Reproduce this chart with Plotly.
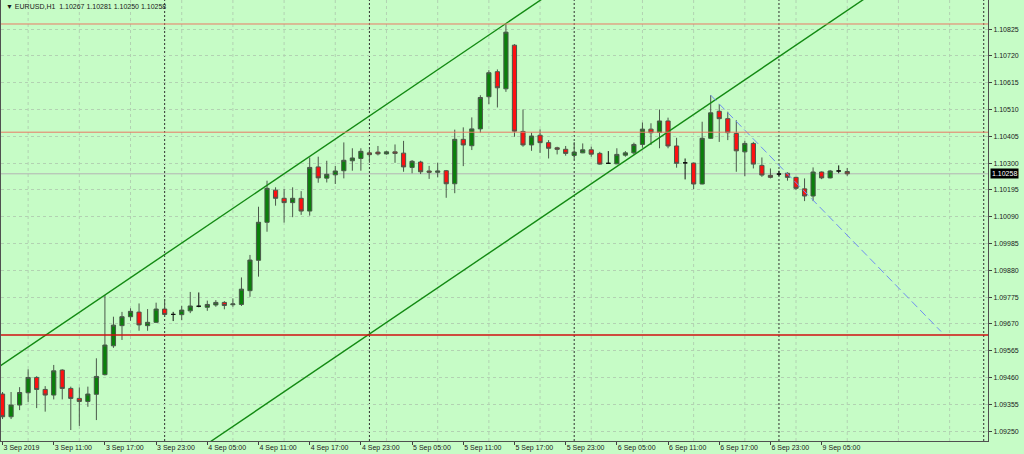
import plotly.graph_objects as go

# ---------------- data (EURUSD, H1) ----------------
opens = [1.09395, 1.09306, 1.09352, 1.09400, 1.09460, 1.09413, 1.09391, 1.09489, 1.09417, 1.09378,
         1.09366, 1.09394, 1.09471, 1.09584, 1.09663, 1.09698, 1.09716, 1.09663, 1.09676, 1.09728,
         1.09707, 1.09706, 1.09721, 1.09739, 1.09735, 1.09744, 1.09754, 1.09745, 1.09746, 1.09800,
         1.09919, 1.10068, 1.10194, 1.10162, 1.10145, 1.10162, 1.10112, 1.10285, 1.10241, 1.10254,
         1.10270, 1.10309, 1.10318, 1.10340, 1.10343, 1.10336, 1.10344, 1.10339, 1.10283, 1.10304,
         1.10269, 1.10264, 1.10270, 1.10219, 1.10393, 1.10368, 1.10434, 1.10560, 1.10658, 1.10591,
         1.10762, 1.10424, 1.10371, 1.10409, 1.10380, 1.10360, 1.10354, 1.10330, 1.10340, 1.10352,
         1.10338, 1.10299, 1.10297, 1.10331, 1.10340, 1.10373, 1.10433, 1.10420, 1.10465, 1.10367,
         1.10301, 1.10300, 1.10218, 1.10397, 1.10503, 1.10474, 1.10416, 1.10344, 1.10377, 1.10291,
         1.10252, 1.10257, 1.10260, 1.10244, 1.10199, 1.10171, 1.10265, 1.10242, 1.10269, 1.10267]

highs = [1.09403, 1.09403, 1.09422, 1.09492, 1.09465, 1.09426, 1.09509, 1.09492, 1.09424, 1.09421,
         1.09424, 1.09535, 1.09783, 1.09698, 1.09717, 1.09731, 1.09750, 1.09728, 1.09753, 1.09767,
         1.09717, 1.09741, 1.09795, 1.09793, 1.09761, 1.09763, 1.09759, 1.09770, 1.09852, 1.09940,
         1.10129, 1.10231, 1.10205, 1.10198, 1.10205, 1.10190, 1.10322, 1.10325, 1.10309, 1.10289,
         1.10381, 1.10358, 1.10358, 1.10354, 1.10367, 1.10348, 1.10373, 1.10387, 1.10312, 1.10309,
         1.10289, 1.10301, 1.10273, 1.10431, 1.10440, 1.10479, 1.10566, 1.10664, 1.10667, 1.10847,
         1.10766, 1.10510, 1.10419, 1.10432, 1.10390, 1.10364, 1.10367, 1.10382, 1.10377, 1.10364,
         1.10344, 1.10347, 1.10358, 1.10347, 1.10380, 1.10459, 1.10456, 1.10510, 1.10478, 1.10399,
         1.10318, 1.10302, 1.10462, 1.10566, 1.10531, 1.10501, 1.10468, 1.10387, 1.10383, 1.10322,
         1.10279, 1.10270, 1.10264, 1.10246, 1.10240, 1.10283, 1.10267, 1.10273, 1.10291, 1.10281]

lows = [1.09297, 1.09297, 1.09332, 1.09364, 1.09340, 1.09326, 1.09374, 1.09374, 1.09254, 1.09270,
        1.09345, 1.09293, 1.09468, 1.09576, 1.09607, 1.09682, 1.09643, 1.09643, 1.09673, 1.09698,
        1.09681, 1.09685, 1.09712, 1.09735, 1.09721, 1.09737, 1.09727, 1.09737, 1.09740, 1.09776,
        1.09855, 1.10031, 1.10133, 1.10067, 1.10088, 1.10097, 1.10094, 1.10223, 1.10224, 1.10218,
        1.10240, 1.10270, 1.10270, 1.10301, 1.10330, 1.10333, 1.10301, 1.10266, 1.10260, 1.10257,
        1.10238, 1.10244, 1.10164, 1.10182, 1.10288, 1.10351, 1.10419, 1.10531, 1.10518, 1.10579,
        1.10403, 1.10364, 1.10348, 1.10340, 1.10318, 1.10334, 1.10329, 1.10315, 1.10339, 1.10325,
        1.10294, 1.10297, 1.10296, 1.10325, 1.10334, 1.10360, 1.10371, 1.10358, 1.10358, 1.10282,
        1.10236, 1.10198, 1.10217, 1.10395, 1.10383, 1.10390, 1.10266, 1.10249, 1.10279, 1.10246,
        1.10240, 1.10249, 1.10231, 1.10194, 1.10151, 1.10151, 1.10237, 1.10240, 1.10260, 1.10250]

closes = [1.09306, 1.09352, 1.09401, 1.09460, 1.09413, 1.09391, 1.09486, 1.09417, 1.09378, 1.09366,
          1.09395, 1.09464, 1.09587, 1.09665, 1.09698, 1.09719, 1.09666, 1.09676, 1.09728, 1.09707,
          1.09707, 1.09724, 1.09740, 1.09739, 1.09746, 1.09754, 1.09742, 1.09748, 1.09806, 1.09920,
          1.10068, 1.10201, 1.10162, 1.10145, 1.10162, 1.10112, 1.10283, 1.10242, 1.10256, 1.10269,
          1.10311, 1.10320, 1.10346, 1.10333, 1.10336, 1.10344, 1.10338, 1.10285, 1.10307, 1.10266,
          1.10264, 1.10269, 1.10219, 1.10393, 1.10371, 1.10434, 1.10557, 1.10654, 1.10595, 1.10813,
          1.10425, 1.10371, 1.10406, 1.10380, 1.10358, 1.10354, 1.10338, 1.10343, 1.10352, 1.10335,
          1.10296, 1.10299, 1.10334, 1.10340, 1.10373, 1.10433, 1.10419, 1.10465, 1.10367, 1.10299,
          1.10301, 1.10218, 1.10397, 1.10497, 1.10474, 1.10419, 1.10348, 1.10377, 1.10296, 1.10253,
          1.10244, 1.10257, 1.10244, 1.10201, 1.10171, 1.10265, 1.10242, 1.10269, 1.10269, 1.10258]

# time-axis labels (every 6th hourly bar, starting 3 Sep 05:00)
tick_bars = [0, 6, 12, 18, 24, 30, 36, 42, 48, 54, 60, 66, 72, 78, 84, 90, 96]
tick_labels = ["3 Sep 2019", "3 Sep 11:00", "3 Sep 17:00", "3 Sep 23:00", "4 Sep 05:00",
               "4 Sep 11:00", "4 Sep 17:00", "4 Sep 23:00", "5 Sep 05:00", "5 Sep 11:00",
               "5 Sep 17:00", "5 Sep 23:00", "6 Sep 05:00", "6 Sep 11:00", "6 Sep 17:00",
               "6 Sep 23:00", "9 Sep 05:00"]
day_separator_bars = [19, 43, 67, 91, 115]
vgrid_bars = list(range(3, 115, 6))

price_ticks = [1.09250, 1.09355, 1.09460, 1.09565, 1.09670, 1.09775, 1.09880, 1.09985,
               1.10090, 1.10195, 1.10300, 1.10405, 1.10510, 1.10615, 1.10720, 1.10825]

# drawing objects
hlevels = [1.10845, 1.10421, 1.09626]
channel_upper_bars = [12, 59]
channel_upper_prices = [1.09783, 1.10847]
channel_lower_bar = 74
channel_lower_price = 1.10332
blue_bars = [83, 110]
blue_prices = [1.10566, 1.09640]

header = "▼ EURUSD,H1  1.10267 1.10281 1.10250 1.10258"

# ---------------- styles ----------------
BG = "#c6fcc6"
BULL = "#0a800a"
BEAR = "#ff1010"
WICK = "#4a584a"
GRID = "#b2d2b2"
FONT = "Liberation Sans"
hcolors = ["#ea7a66", "#ea7a66", "#d01010"]
hwidths = [1, 1, 1.5]

n = len(opens)
bars = list(range(n))
doji = [opens[i] == closes[i] for i in bars]
main_idx = [i for i in bars if not doji[i]]
doji_idx = [i for i in bars if doji[i]]

fig = go.Figure()

fig.add_trace(go.Candlestick(
    x=main_idx,
    open=[opens[i] for i in main_idx], high=[highs[i] for i in main_idx],
    low=[lows[i] for i in main_idx], close=[closes[i] for i in main_idx],
    increasing=dict(fillcolor=BULL, line=dict(color=WICK, width=1)),
    decreasing=dict(fillcolor=BEAR, line=dict(color=WICK, width=1)),
    whiskerwidth=0, hoverinfo="skip", showlegend=False))

fig.add_trace(go.Candlestick(
    x=doji_idx,
    open=[opens[i] for i in doji_idx], high=[highs[i] for i in doji_idx],
    low=[lows[i] for i in doji_idx], close=[closes[i] for i in doji_idx],
    increasing=dict(fillcolor="#000000", line=dict(color="#111111", width=1)),
    decreasing=dict(fillcolor="#000000", line=dict(color="#111111", width=1)),
    whiskerwidth=0, hoverinfo="skip", showlegend=False))

# channel lines (parallel)
slope = (channel_upper_prices[1] - channel_upper_prices[0]) / (channel_upper_bars[1] - channel_upper_bars[0])
ext = [-5, 130]
up_y = [channel_upper_prices[0] + slope * (b - channel_upper_bars[0]) for b in ext]
lo_y = [channel_lower_price + slope * (b - channel_lower_bar) for b in ext]
for ys in (up_y, lo_y):
    fig.add_trace(go.Scatter(x=ext, y=ys, mode="lines",
                             line=dict(color="#138a13", width=1.4),
                             hoverinfo="skip", showlegend=False))

# blue dashed trend line
fig.add_trace(go.Scatter(x=blue_bars, y=blue_prices, mode="lines",
                         line=dict(color="#6f8ff0", width=1, dash="8px,4px"),
                         hoverinfo="skip", showlegend=False))

shapes = []
for b in vgrid_bars:
    shapes.append(dict(type="line", xref="x", yref="paper", x0=b, x1=b, y0=0, y1=1,
                       line=dict(color=GRID, width=1, dash="3px,3px"), layer="below"))
for b in day_separator_bars:
    shapes.append(dict(type="line", xref="x", yref="paper", x0=b, x1=b, y0=0, y1=1,
                       line=dict(color="#303030", width=1, dash="2px,2px"), layer="below"))
# bid line
shapes.append(dict(type="line", xref="paper", yref="y", x0=0, x1=1, y0=closes[-1], y1=closes[-1],
                   line=dict(color="#b4b4b4", width=1), layer="below"))
for lvl, col, w in zip(hlevels, hcolors, hwidths):
    shapes.append(dict(type="line", xref="paper", yref="y", x0=0, x1=1, y0=lvl, y1=lvl,
                       line=dict(color=col, width=w), layer="above"))

annotations = [
    dict(text=header, xref="paper", yref="paper", x=0, y=1, xanchor="left", yanchor="top",
         xshift=3, yshift=-1, showarrow=False, font=dict(family=FONT, size=7, color="#1a1a1a")),
    dict(text=f"{closes[-1]:.5f}", xref="paper", yref="y", x=1, y=closes[-1],
         xanchor="left", yanchor="middle", xshift=2, showarrow=False,
         bgcolor="#000000", borderpad=1, font=dict(family=FONT, size=7, color="#ffffff")),
]

fig.update_layout(
    width=1024, height=454,
    margin=dict(l=1, r=36, t=0, b=13),
    paper_bgcolor=BG, plot_bgcolor=BG,
    showlegend=False, hovermode=False,
    shapes=shapes, annotations=annotations,
    font=dict(family=FONT, size=7, color="#202020"),
    xaxis=dict(range=[-0.18, 115.5], tickmode="array", tickvals=tick_bars, ticktext=tick_labels,
               ticks="outside", ticklen=3, tickcolor="#404040", ticklabelposition="outside right",
               showgrid=False, zeroline=False, showline=True, linecolor="#505050", mirror=True,
               rangeslider=dict(visible=False), automargin=False,
               tickfont=dict(family=FONT, size=7, color="#202020")),
    yaxis=dict(range=[1.09211, 1.10939], side="right", tickmode="array", tickvals=price_ticks,
               ticktext=[f"{p:.5f}" for p in price_ticks],
               ticks="outside", ticklen=3, tickcolor="#404040",
               showgrid=True, gridcolor=GRID, griddash="3px,3px", gridwidth=1,
               zeroline=False, showline=True, linecolor="#505050", mirror=True, automargin=False,
               tickfont=dict(family=FONT, size=7, color="#202020")),
)

fig.write_html("out.html", config={"displayModeBar": False},
               post_script="document.body.style.margin='0';document.body.style.overflow='hidden';"
                           "document.body.style.background='" + BG + "';")
